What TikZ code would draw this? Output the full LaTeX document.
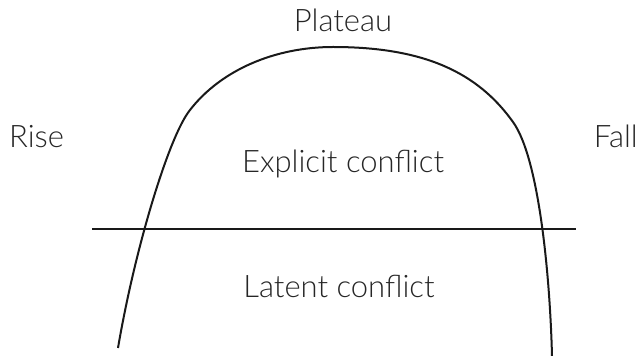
\documentclass[tikz,border=0pt]{standalone}
\usepackage{fontspec}
\setmainfont{Lato Light}
\begin{document}
\begin{tikzpicture}[x=1pt,y=1pt,
  lbl/.style={anchor=base,inner sep=0pt,font=\fontsize{31}{35}\selectfont,text=black!85},
  curve/.style={line width=2pt,black!90},
  divider/.style={line width=1.8pt,black!90}]
\useasboundingbox (0,0) rectangle (638,356);
% labels
\node[lbl] (plateau) at (343,324) {Plateau};
\node[lbl,anchor=base west] (rise) at (9,208) {Rise};
\node[lbl,anchor=base east] (fall) at (638,208) {Fall};
\node[lbl] (explicit) at (343,183) {Explicit conflict};
\node[lbl] (latent) at (339,58) {Latent conflict};
% the rise-plateau-fall curve
\coordinate (start) at (118,8);
\coordinate (shoulderL) at (190,246);
\coordinate (top) at (333,309);
\coordinate (shoulderR) at (513,234);
\coordinate (finish) at (552,0);
\draw[curve] (start)
  .. controls (135,108) and (169,220) .. (shoulderL)
  .. controls (221,286) and (275,309) .. (top)
  .. controls (425,309) and (478,283) .. (shoulderR)
  .. controls (539,198) and (550,80) .. (finish);
% threshold between latent and explicit conflict
\coordinate (lineL) at (92,127);
\coordinate (lineR) at (576,127);
\draw[divider] (lineL) -- (lineR);
\end{tikzpicture}
\end{document}
